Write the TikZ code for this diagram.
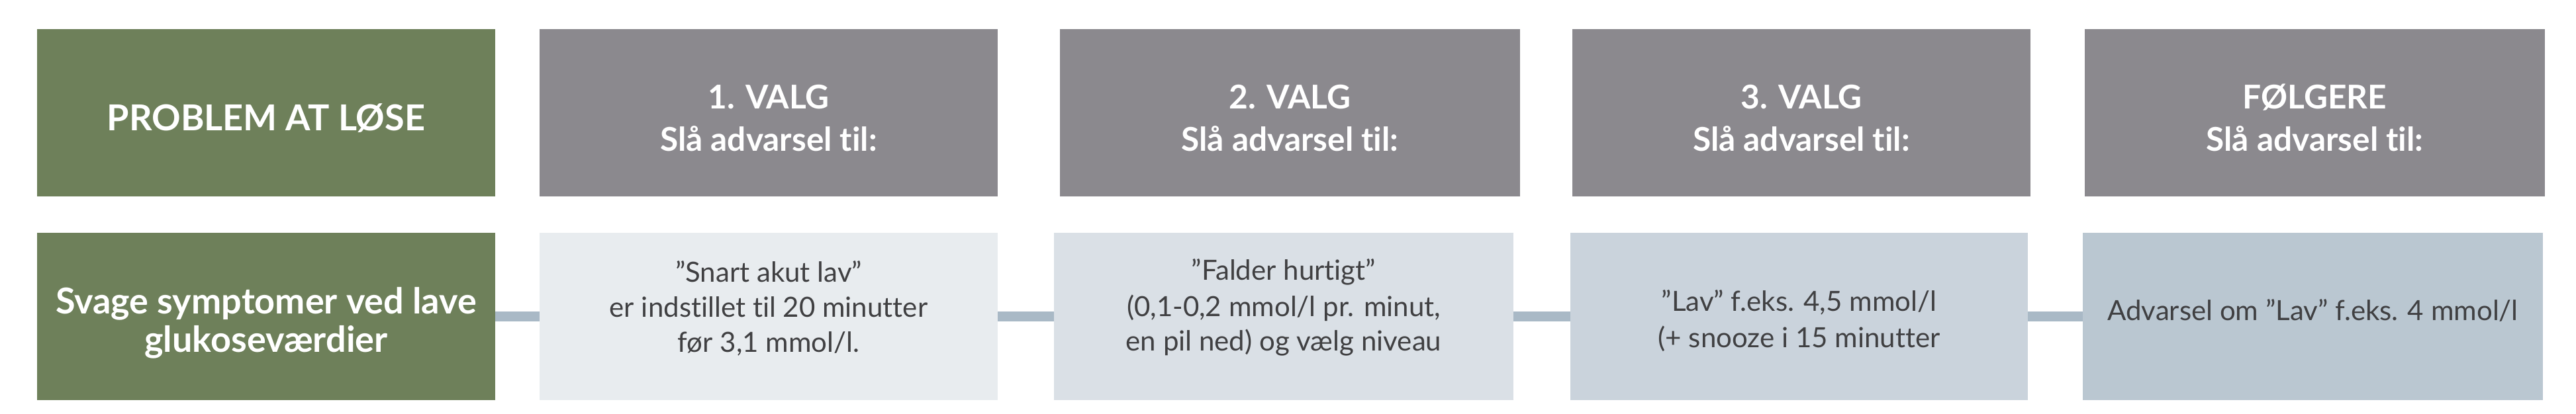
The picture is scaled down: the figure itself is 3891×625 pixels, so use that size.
\documentclass[tikz,border=0pt]{standalone}
\usepackage{fontspec}
\setmainfont{Lato}[Ligatures={NoCommon}]
\definecolor{probgreen}{HTML}{6E805A}
\definecolor{headgray}{HTML}{8B898E}
\definecolor{fillA}{HTML}{E8ECEF}
\definecolor{fillB}{HTML}{DAE0E6}
\definecolor{fillC}{HTML}{CAD3DC}
\definecolor{fillD}{HTML}{BAC7D1}
\definecolor{conncol}{HTML}{A9B9C6}
\definecolor{txtgray}{HTML}{404042}
\begin{document}
\begin{tikzpicture}[x=0.25pt,y=-0.25pt,
  box/.style={rectangle, inner sep=0pt, outer sep=0pt, minimum height=63.25pt},
  headbox/.style={box, fill=headgray},
  probbox/.style={box, fill=probgreen},
  hd/.style={anchor=base, inner sep=0pt, text=white, font=\fontsize{12.4pt}{14pt}\selectfont\bfseries},
  hdbig/.style={hd, font=\fontsize{13.5pt}{15pt}\selectfont\bfseries},
  bd/.style={anchor=base, inner sep=0pt, text=txtgray, font=\fontsize{10.5pt}{12pt}\selectfont},
  conn/.style={draw=conncol, line width=3.75pt}]
\useasboundingbox (0,0) rectangle (3891,625);
\fill[white] (0,0) rectangle (3891,625);
% top row
\node[probbox, minimum width=173pt] (t1) at (402,170.5) {};
\node[headbox, minimum width=173pt] (t2) at (1161,170.5) {};
\node[headbox, minimum width=173.75pt] (t3) at (1948.5,170.5) {};
\node[headbox, minimum width=173pt] (t4) at (2721,170.5) {};
\node[headbox, minimum width=173.75pt] (t5) at (3496.5,170.5) {};
% bottom row
\node[probbox, minimum width=173pt] (b1) at (402,478.5) {};
\node[box, fill=fillA, minimum width=173pt] (b2) at (1161,478.5) {};
\node[box, fill=fillB, minimum width=173.5pt] (b3) at (1939,478.5) {};
\node[box, fill=fillC, minimum width=172.75pt] (b4) at (2717.5,478.5) {};
\node[box, fill=fillD, minimum width=173.75pt] (b5) at (3493.5,478.5) {};
% connectors
\draw[conn] (b1.east) -- (b2.west);
\draw[conn] (b2.east) -- (b3.west);
\draw[conn] (b3.east) -- (b4.west);
\draw[conn] (b4.east) -- (b5.west);
% header texts
\node[hdbig] (t1a) at (402,197) {PROBLEM AT LØSE};
\node[hd] (t2a) at (1161,164) {1. VALG};
\node[hd] (t2b) at (1161,228) {Slå advarsel til:};
\node[hd] (t3a) at (1948.5,164) {2. VALG};
\node[hd] (t3b) at (1948.5,228) {Slå advarsel til:};
\node[hd] (t4a) at (2721,164) {3. VALG};
\node[hd] (t4b) at (2721,228) {Slå advarsel til:};
\node[hd] (t5a) at (3496.5,164) {FØLGERE};
\node[hd] (t5b) at (3496.5,228) {Slå advarsel til:};
% bottom texts
\node[hdbig] (b1a) at (402,474) {Svage symptomer ved lave};
\node[hdbig] (b1b) at (402,532) {glukoseværdier};
\node[bd] (b2a) at (1161,426) {”Snart akut lav”};
\node[bd] (b2b) at (1161,479) {er indstillet til 20 minutter};
\node[bd] (b2c) at (1161,532) {før 3,1 mmol/l.};
\node[bd] (b3a) at (1939,423) {”Falder hurtigt”};
\node[bd] (b3b) at (1939,478) {(0,1-0,2 mmol/l pr. minut,};
\node[bd] (b3c) at (1939,530) {en pil ned) og vælg niveau};
\node[bd] (b4a) at (2717.5,470) {”Lav” f.eks. 4,5 mmol/l};
\node[bd] (b4b) at (2717.5,525) {(+ snooze i 15 minutter};
\node[bd] (b5a) at (3493.5,484) {Advarsel om ”Lav” f.eks. 4 mmol/l};
\end{tikzpicture}
\end{document}
